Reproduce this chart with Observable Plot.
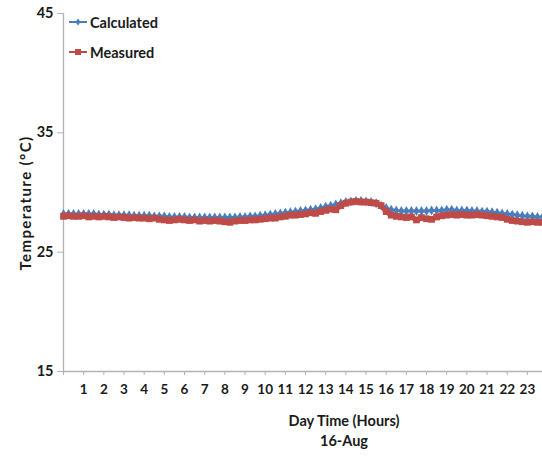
<!DOCTYPE html>
<html>
<head>
<meta charset="utf-8">
<script src="https://cdn.jsdelivr.net/npm/d3@7"></script>
<script src="https://cdn.jsdelivr.net/npm/@observablehq/plot@0.6"></script>
<style>
  html, body { margin: 0; padding: 0; background: #fff; }
  #wrap { position: relative; width: 542px; height: 457px; font-family: Lato, "Open Sans", sans-serif; }
  #legend { position: absolute; left: 69px; top: 12px; font-weight: bold; font-size: 14.5px; color: #1a1a1a; }
  .item { display: flex; align-items: center; height: 20px; margin-bottom: 10px; }
  .item svg { margin-right: 2px; }
  #ytitle { position: absolute; left: 25px; top: 203px; transform: translate(-50%, -50%) rotate(-90deg);
    white-space: nowrap; font-weight: bold; font-size: 15px; letter-spacing: 1.4px; color: #1a1a1a; }
</style>
</head>
<body>
<div id="wrap"><div id="legend"></div><div id="ytitle"></div></div>
<script>
// Hours of the day (15-minute steps)
const hours = d3.range(0, 96).map(i => i / 4);

// Calculated temperature (°C)
const calculated = [
  28.2, 28.2, 28.2, 28.2,
  28.2, 28.2, 28.2, 28.15,
  28.15, 28.15, 28.1, 28.1,
  28.1, 28.1, 28.05, 28.05,
  28.05, 28.05, 28.0, 28.0,
  28.0, 27.95, 27.95, 27.95,
  27.95, 27.9, 27.9, 27.9,
  27.9, 27.9, 27.9, 27.9,
  27.9, 27.9, 27.9, 27.95,
  27.95, 28.0, 28.0, 28.05,
  28.1, 28.15, 28.2, 28.25,
  28.3, 28.35, 28.4, 28.45,
  28.5, 28.55, 28.6, 28.7,
  28.8, 28.9, 29.0, 29.1,
  29.2, 29.25, 29.3, 29.3,
  29.25, 29.2, 29.1, 28.9,
  28.7, 28.55, 28.5, 28.45,
  28.45, 28.45, 28.45, 28.45,
  28.45, 28.5, 28.5, 28.5,
  28.55, 28.55, 28.5, 28.5,
  28.5, 28.45, 28.45, 28.4,
  28.4, 28.35, 28.3, 28.25,
  28.2, 28.15, 28.1, 28.05,
  28.0, 28.0, 27.95, 27.95
];

// Measured temperature (°C)
const measured = [
  28.0, 28.05, 28.0, 28.0,
  28.05, 27.95, 28.0, 27.95,
  28.0, 27.95, 27.9, 27.95,
  27.9, 27.85, 27.9, 27.85,
  27.85, 27.8, 27.85, 27.75,
  27.7, 27.65, 27.7, 27.75,
  27.7, 27.65, 27.7, 27.6,
  27.65, 27.6, 27.65, 27.6,
  27.55, 27.5, 27.6, 27.65,
  27.65, 27.7, 27.7, 27.75,
  27.8, 27.85, 27.85, 27.95,
  28.0, 28.1, 28.1, 28.15,
  28.2, 28.3, 28.25, 28.4,
  28.5, 28.6, 28.55, 28.9,
  29.1, 29.2, 29.25, 29.2,
  29.2, 29.15, 29.1, 28.9,
  28.4, 28.1, 28.0, 27.95,
  27.9, 27.95, 27.7, 27.9,
  27.8, 27.75, 27.95, 28.05,
  28.1, 28.15, 28.1, 28.15,
  28.1, 28.1, 28.15, 28.1,
  28.05, 28.0, 27.95, 27.9,
  27.75, 27.65, 27.6, 27.55,
  27.5, 27.55, 27.5, 27.5
];

const xTicks = d3.range(0, 24);
const yTicks = [15, 25, 35, 45];
const seriesNames = ["Calculated", "Measured"];
const seriesColors = ["#4A7EBB", "#BE4B48"];
const xTitle = "Day Time (Hours)";
const xSubtitle = "16-Aug";
const yTitle = "Temperature (°C)";

const calcData = hours.map((h, i) => ({h, t: calculated[i]}));
const measData = hours.map((h, i) => ({h, t: measured[i]}));

const axisGrey = "#b3b3b3";
const font = "Lato, 'Open Sans', sans-serif";

const chart = Plot.plot({
  width: 542,
  height: 457,
  marginTop: 13,
  marginBottom: 86,
  marginLeft: 63,
  marginRight: 0,
  style: {fontFamily: font, background: "#fff", overflow: "visible"},
  x: {domain: [0, 23.75]},
  y: {domain: [15, 45]},
  marks: [
    Plot.ruleX([0], {stroke: axisGrey, strokeWidth: 1.3}),
    Plot.ruleY([15], {stroke: axisGrey, strokeWidth: 1.3}),
    Plot.axisY({ticks: yTicks, tickSize: 6, tickPadding: 4, stroke: axisGrey, fill: "#1a1a1a",
      fontSize: 14.5, fontWeight: "bold", label: null}),
    Plot.axisX({ticks: xTicks, tickSize: 4, tickPadding: 9, stroke: axisGrey, fill: "#1a1a1a",
      fontSize: 13.5, fontWeight: "bold", label: null, tickFormat: d => d === 0 ? "" : d}),
    Plot.line(calcData, {x: "h", y: "t", stroke: seriesColors[0], strokeWidth: 3}),
    Plot.dot(calcData, {x: "h", y: "t", symbol: "diamond", r: 3, fill: seriesColors[0], stroke: "none"}),
    Plot.line(measData, {x: "h", y: "t", stroke: seriesColors[1], strokeWidth: 5}),
    Plot.dot(measData, {x: "h", y: "t", symbol: "square", r: 3.8, fill: seriesColors[1], stroke: "none"}),
    Plot.text([xTitle], {frameAnchor: "bottom", dx: 41, dy: 54, fontSize: 14.5, fontWeight: "bold", fill: "#1a1a1a"}),
    Plot.text([xSubtitle], {frameAnchor: "bottom", dx: 41, dy: 74, fontSize: 14.5, fontWeight: "bold", fill: "#1a1a1a"})
  ]
});
document.getElementById("wrap").prepend(chart);
document.getElementById("ytitle").textContent = yTitle;

// Legend
const legend = document.getElementById("legend");
const markerShapes = ["diamond", "square"];
seriesNames.forEach((name, i) => {
  const item = document.createElement("div");
  item.className = "item";
  const c = seriesColors[i];
  const marker = markerShapes[i] === "diamond"
    ? `<path d="M9,6.5 L11.5,10 L9,13.5 L6.5,10 Z" fill="${c}"/>`
    : `<rect x="6" y="7" width="6" height="6" fill="${c}"/>`;
  item.innerHTML = `<svg width="19" height="20"><line x1="0" y1="10" x2="18" y2="10" stroke="${c}" stroke-width="2"/>${marker}</svg><span>${name}</span>`;
  legend.appendChild(item);
});
</script>
</body>
</html>
